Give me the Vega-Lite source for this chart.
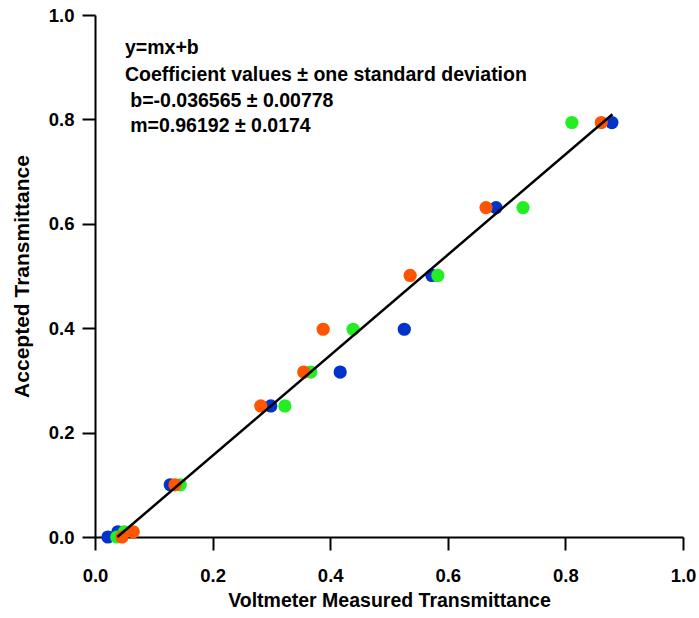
{
  "$schema": "https://vega.github.io/schema/vega-lite/v6.json",
  "width": 588,
  "height": 522,
  "autosize": {"type": "none"},
  "padding": {"left": 95, "top": 15, "right": 16, "bottom": 81},
  "background": "white",
  "config": {
    "view": {"stroke": null},
    "font": "Liberation Sans",
    "axis": {
      "grid": false,
      "domainColor": "black",
      "domainWidth": 2,
      "tickColor": "black",
      "tickWidth": 2,
      "tickSize": 13,
      "labelFont": "Liberation Sans",
      "labelFontWeight": "bold",
      "labelFontSize": 18.5,
      "labelColor": "black",
      "labelFlush": false,
      "labelOverlap": false,
      "titleFont": "Liberation Sans",
      "titleFontWeight": "bold",
      "titleColor": "black"
    }
  },
  "datasets": {
    "pts": [
      {"series": "A", "measured": 0.022, "accepted": 0.0},
      {"series": "A", "measured": 0.039, "accepted": 0.01},
      {"series": "A", "measured": 0.128, "accepted": 0.1},
      {"series": "A", "measured": 0.299, "accepted": 0.251},
      {"series": "A", "measured": 0.417, "accepted": 0.316},
      {"series": "A", "measured": 0.526, "accepted": 0.398},
      {"series": "A", "measured": 0.573, "accepted": 0.501},
      {"series": "A", "measured": 0.682, "accepted": 0.631},
      {"series": "A", "measured": 0.879, "accepted": 0.794},
      {"series": "B", "measured": 0.037, "accepted": 0.0},
      {"series": "B", "measured": 0.05, "accepted": 0.01},
      {"series": "B", "measured": 0.145, "accepted": 0.1},
      {"series": "B", "measured": 0.323, "accepted": 0.251},
      {"series": "B", "measured": 0.367, "accepted": 0.316},
      {"series": "B", "measured": 0.439, "accepted": 0.398},
      {"series": "B", "measured": 0.583, "accepted": 0.501},
      {"series": "B", "measured": 0.728, "accepted": 0.631},
      {"series": "B", "measured": 0.811, "accepted": 0.794},
      {"series": "C", "measured": 0.046, "accepted": 0.0},
      {"series": "C", "measured": 0.065, "accepted": 0.01},
      {"series": "C", "measured": 0.136, "accepted": 0.1},
      {"series": "C", "measured": 0.282, "accepted": 0.251},
      {"series": "C", "measured": 0.355, "accepted": 0.316},
      {"series": "C", "measured": 0.388, "accepted": 0.398},
      {"series": "C", "measured": 0.536, "accepted": 0.501},
      {"series": "C", "measured": 0.665, "accepted": 0.631},
      {"series": "C", "measured": 0.861, "accepted": 0.794}
    ],
    "fit": [
      {"measured": 0.038, "accepted": 0.0},
      {"measured": 0.88, "accepted": 0.8099}
    ],
    "notes": [
      {"tx": 0.051, "ty": 0.937, "label": "y=mx+b"},
      {"tx": 0.051, "ty": 0.886, "label": "Coefficient values ± one standard deviation"},
      {"tx": 0.06, "ty": 0.836, "label": "b=-0.036565 ± 0.00778"},
      {"tx": 0.06, "ty": 0.787, "label": "m=0.96192 ± 0.0174"}
    ]
  },
  "layer": [
    {
      "data": {"name": "pts"},
      "mark": {"type": "point", "filled": true, "opacity": 1, "size": 175, "shape": "circle"},
      "encoding": {
        "x": {
          "field": "measured", "type": "quantitative",
          "scale": {"domain": [0, 1], "nice": false, "zero": false},
          "axis": {"values": [0, 0.2, 0.4, 0.6, 0.8, 1.0], "format": ".1f", "title": "Voltmeter Measured Transmittance", "titleFontSize": 19.5, "labelPadding": 16, "titlePadding": 7}
        },
        "y": {
          "field": "accepted", "type": "quantitative",
          "scale": {"domain": [0, 1], "nice": false, "zero": false},
          "axis": {"values": [0, 0.2, 0.4, 0.6, 0.8, 1.0], "format": ".1f", "title": "Accepted Transmittance", "titleFontSize": 21, "labelPadding": 8, "titlePadding": 16}
        },
        "color": {
          "field": "series", "type": "nominal",
          "scale": {"domain": ["A", "B", "C"], "range": ["#0033cc", "#22ee22", "#ff5500"]},
          "legend": null
        }
      }
    },
    {
      "data": {"name": "fit"},
      "mark": {"type": "line", "color": "black", "strokeWidth": 2.5},
      "encoding": {
        "x": {"field": "measured", "type": "quantitative"},
        "y": {"field": "accepted", "type": "quantitative"}
      }
    },
    {
      "data": {"name": "notes"},
      "mark": {"type": "text", "align": "left", "baseline": "middle", "fontSize": 19.5, "fontWeight": "bold", "color": "black", "font": "Liberation Sans"},
      "encoding": {
        "x": {"field": "tx", "type": "quantitative"},
        "y": {"field": "ty", "type": "quantitative"},
        "text": {"field": "label"}
      }
    }
  ]
}
